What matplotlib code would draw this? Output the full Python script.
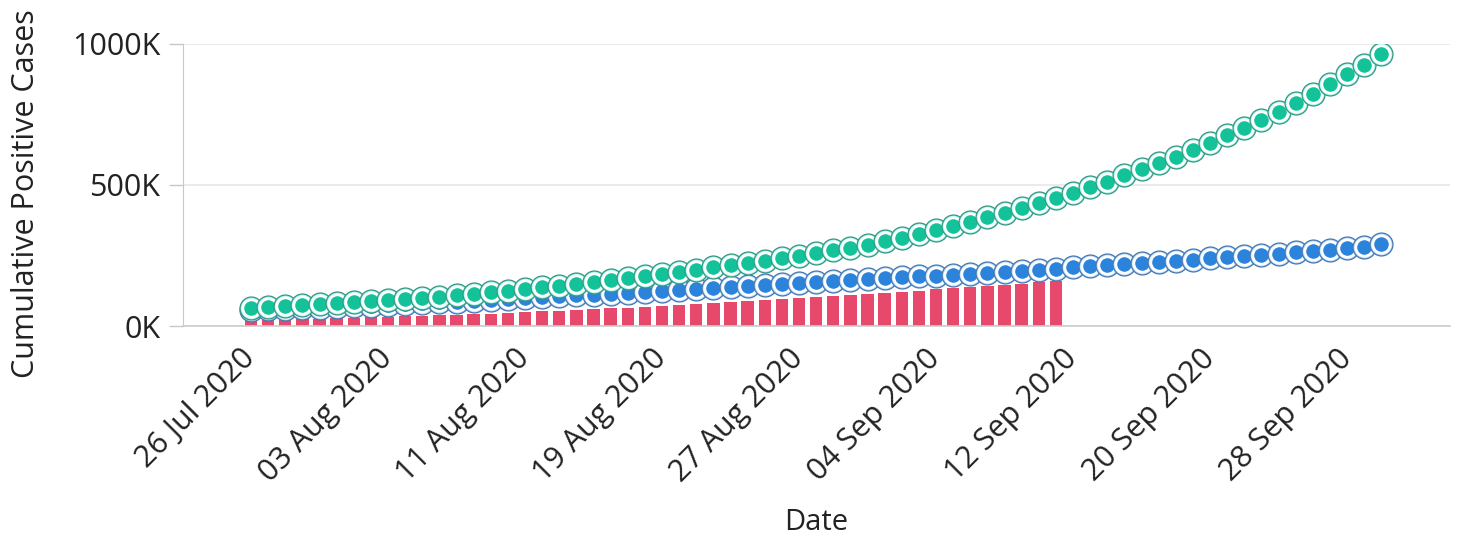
import matplotlib
matplotlib.use("Agg")
import matplotlib.pyplot as plt
import matplotlib.dates as mdates
import pandas as pd

# data (thousands of cases), one value per day
dates = pd.date_range("2020-07-26", "2020-09-30", freq="D")
projected = [64, 67, 70, 74, 77, 81, 84, 88, 92, 96,
             101, 105, 110, 115, 120, 126, 131, 137, 143, 150,
             157, 163, 170, 177, 185, 192, 200, 208, 216, 224,
             232, 241, 250, 259, 268, 278, 289, 300, 312, 326,
             340, 355, 369, 385, 401, 418, 436, 454, 473, 492,
             512, 534, 556, 578, 600, 624, 649, 676, 703, 731,
             760, 790, 823, 858, 892, 925, 965]
lower = [58, 60, 62, 64, 66, 69, 71, 73, 76, 78,
         81, 84, 87, 90, 93, 97, 100, 103, 106, 109,
         112, 115, 118, 121, 124, 128, 132, 135, 139, 143,
         147, 151, 154, 157, 161, 164, 167, 170, 173, 176,
         179, 182, 186, 189, 193, 197, 200, 204, 208, 212,
         216, 220, 224, 228, 232, 236, 240, 244, 248, 252,
         256, 261, 266, 271, 276, 282, 290]
actual = [21, 22, 24, 25, 27, 28, 30, 31, 33, 35,
          36, 38, 40, 42, 44, 47, 49, 52, 54, 57,
          60, 63, 66, 69, 72, 75, 78, 81, 85, 88,
          92, 96, 99, 103, 107, 110, 114, 118, 122, 126,
          130, 134, 138, 142, 146, 150, 155, 160]
tick_dates = dates[::8]
y_ticks = [0, 500, 1000]

plt.rcParams['font.family'] = ['Open Sans', 'DejaVu Sans']

fig = plt.figure(figsize=(14.6, 5.4), dpi=100)
ax = fig.add_axes([0.125, 0.396, 0.868, 0.523])

x = mdates.date2num(dates)
ax.bar(x[:len(actual)], [v * 1000 for v in actual], width=0.72,
       color='#e6496b', zorder=2)


def ring_series(vals, fill, halo, edge, zbase):
    # every point drawn as its own stack so that later points overlap earlier ones
    for i, v in enumerate(vals):
        z = zbase + i * 0.01
        ax.plot(x[i], v * 1000, 'o', ms=16.5, mfc=halo, mec=edge, mew=0.9,
                zorder=z)
        ax.plot(x[i], v * 1000, 'o', ms=12.5, mfc=fill, mec='white', mew=2.0,
                zorder=z + 0.005)


ring_series(lower, '#2b83dc', '#a9d4ff', '#4a78ad', 3)
ring_series(projected, '#14c29a', '#8ff5e6', '#3a9582', 5)

ax.set_xlim(x[0] - 4, x[0] + 70)
ax.set_ylim(0, 1000000)
ax.set_xticks(mdates.date2num(tick_dates))
ax.set_xticklabels([d.strftime('%d %b %Y') for d in tick_dates],
                   rotation=45, ha='right', va='center', rotation_mode='anchor')
ax.set_yticks([v * 1000 for v in y_ticks])
ax.set_yticklabels([f'{v}K' for v in y_ticks])
ax.tick_params(axis='x', length=0, labelsize=22, pad=20, colors='#222222')
ax.tick_params(axis='y', length=10, width=1, color='#c8c8c8',
               labelsize=22, pad=6, colors='#222222')

ax.grid(axis='y', color='#e6e6e6', linewidth=1.2, zorder=0)
ax.set_axisbelow(True)
for s in ['top', 'right']:
    ax.spines[s].set_visible(False)
ax.spines['left'].set_color('#c8c8c8')
ax.spines['bottom'].set_color('#cccccc')
ax.spines['bottom'].set_linewidth(1.2)

ax.set_xlabel('Date', fontsize=21, color='#222222', labelpad=14)
ax.set_ylabel('Cumulative Positive Cases', fontsize=22, color='#222222')
ax.yaxis.set_label_coords(-0.112, 0.47)

fig.savefig('out.png', dpi=100)
